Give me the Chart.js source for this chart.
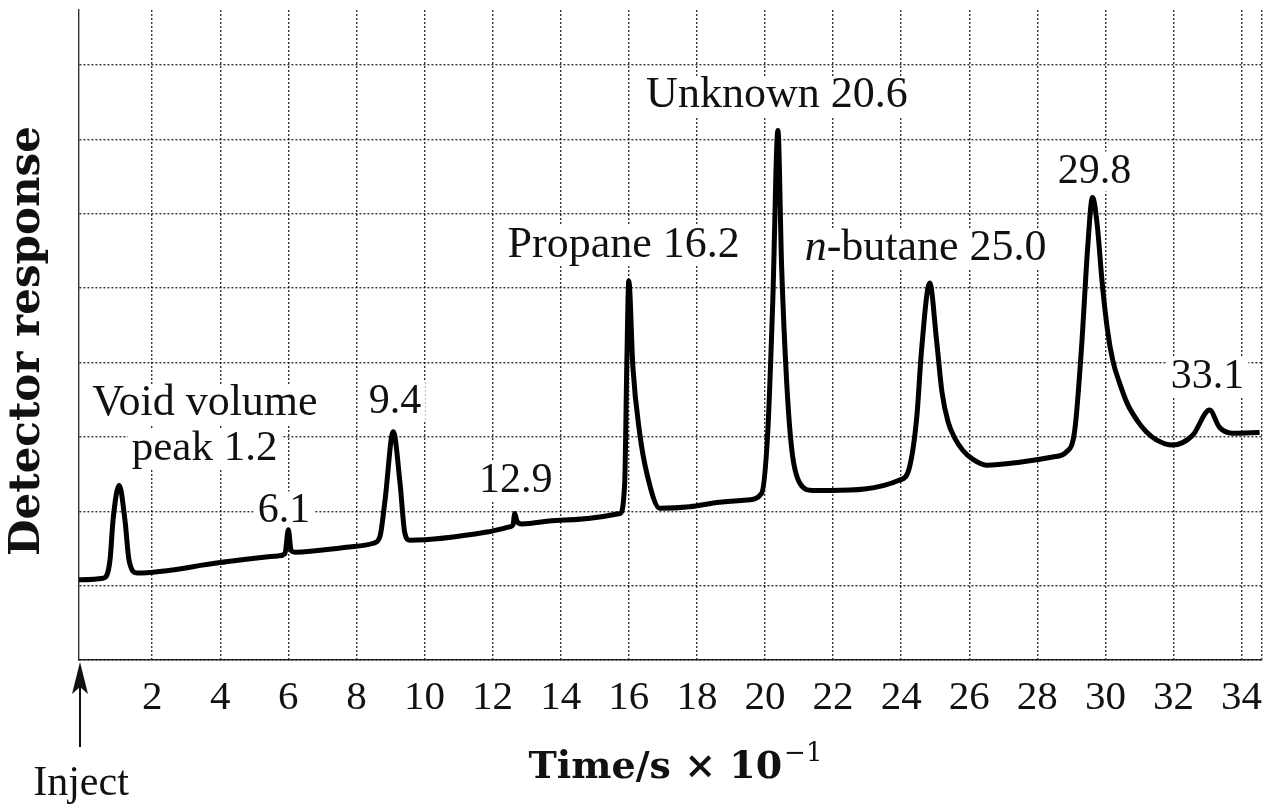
<!DOCTYPE html>
<html>
<head>
<meta charset="utf-8">
<title>Chromatogram</title>
<script src="https://cdn.jsdelivr.net/npm/chart.js@4.4.0/dist/chart.umd.min.js"></script>
<style>
  html, body { margin: 0; padding: 0; background: #fff; }
  #wrap { width: 1266px; height: 809px; }
</style>
</head>
<body>
<div id="wrap"><canvas id="chromChart" width="1266" height="809"></canvas></div>
<script>
// Retention time axis (grid units, Time/s x 10^-1)
var timeValues = [
    -0.15, 0.56, 0.76, 0.85, 1.03, 1.2, 1.32, 1.55, 4.0, 5.7,
    5.9, 6.0, 6.08, 6.2, 7.8, 8.5, 8.69, 8.84, 9.08, 9.28,
    9.42, 9.57, 11.83, 12.5, 12.6, 12.65, 12.72, 12.85, 13.97, 15.74,
    15.88, 15.94, 16.0, 16.12, 16.32, 16.53, 16.91, 17.79, 18.67, 19.47,
    19.9, 20.08, 20.23, 20.38, 20.49, 20.64, 20.79, 21.02, 21.4, 21.9,
    23.96, 24.25, 24.46, 24.6, 24.84, 25.04, 25.2, 25.38, 25.58, 25.81,
    26.1, 26.51, 27.48, 28.45, 28.86, 29.1, 29.3, 29.48, 29.62, 29.76,
    29.9, 30.06, 30.22, 30.42, 30.65, 30.92, 31.2, 31.5, 31.97, 32.56,
    33.06, 33.35, 33.73, 34.53
];
// Detector response (grid divisions above the bottom line)
var responseValues = [
    1.08, 1.10, 1.34, 1.88, 2.35, 1.88, 1.34, 1.17, 1.31, 1.40,
    1.43, 1.75, 1.47, 1.45, 1.52, 1.57, 1.66, 2.15, 3.07, 2.38,
    1.71, 1.61, 1.72, 1.79, 1.82, 1.97, 1.86, 1.83, 1.88, 1.97,
    2.38, 3.94, 5.1, 3.94, 3.05, 2.51, 2.04, 2.06, 2.12, 2.15,
    2.24, 3.05, 4.84, 7.12, 5.28, 3.72, 2.82, 2.38, 2.28, 2.28,
    2.42, 2.6, 3.27, 4.17, 5.07, 4.3, 3.6, 3.2, 2.98, 2.82,
    2.7, 2.62, 2.66, 2.73, 2.8, 3.09, 4.21, 5.55, 6.22, 5.85,
    5.1, 4.44, 4.02, 3.72, 3.44, 3.23, 3.07, 2.96, 2.89, 3.02,
    3.36, 3.13, 3.05, 3.06
];
var xTickValues = [2, 4, 6, 8, 10, 12, 14, 16, 18, 20, 22, 24, 26, 28, 30, 32, 34];
var xMin = -0.15, xMax = 34.6;
var yMax = 8.74;

// peak labels, placed in data units (centre x, baseline y)
var peakLabels = [
    { parts: [{ t: 'Void volume' }], x: 3.55, y: 3.29, size: 44 },
    { parts: [{ t: 'peak 1.2' }], x: 3.54, y: 2.69, size: 43 },
    { parts: [{ t: '6.1' }], x: 5.87, y: 1.85, size: 42 },
    { parts: [{ t: '9.4' }], x: 9.13, y: 3.32, size: 42 },
    { parts: [{ t: '12.9' }], x: 12.68, y: 2.26, size: 42 },
    { parts: [{ t: 'Propane 16.2' }], x: 15.85, y: 5.42, size: 44 },
    { parts: [{ t: 'Unknown 20.6' }], x: 20.35, y: 7.43, size: 44 },
    { parts: [{ t: 'n', italic: true }, { t: '-butane 25.0' }], x: 24.72, y: 5.38, size: 44 },
    { parts: [{ t: '29.8' }], x: 29.68, y: 6.42, size: 42 },
    { parts: [{ t: '33.1' }], x: 33.0, y: 3.66, size: 42 }
];

var serif = '"Liberation Serif", "Times New Roman", serif';
var gridColor = 'rgba(0,0,0,0.8)';

var points = timeValues.map(function (t, i) {
    return { x: t, y: responseValues[i] };
});

function fontFor(part, size) {
    return (part.italic ? 'italic ' : '') + size + 'px ' + serif;
}

var labelsPlugin = {
    id: 'peakLabels',
    beforeDatasetsDraw: function (chart) {
        var ctx = chart.ctx;
        var xs = chart.scales.x, ys = chart.scales.y;
        ctx.save();
        ctx.textBaseline = 'alphabetic';
        peakLabels.forEach(function (lab) {
            var total = 0;
            lab.parts.forEach(function (p) {
                ctx.font = fontFor(p, lab.size);
                p.w = ctx.measureText(p.t).width;
                total += p.w;
            });
            var cx = xs.getPixelForValue(lab.x);
            var by = ys.getPixelForValue(lab.y);
            var x0 = cx - total / 2;
            ctx.fillStyle = '#fff';
            ctx.fillRect(x0 - 4, by - 31, total + 8, 40);
            ctx.fillStyle = '#111';
            ctx.textAlign = 'left';
            lab.parts.forEach(function (p) {
                ctx.font = fontFor(p, lab.size);
                ctx.fillText(p.t, x0, by);
                x0 += p.w;
            });
        });
        ctx.restore();
    }
};

var titlesPlugin = {
    id: 'axisTitles',
    afterDraw: function (chart) {
        var ctx = chart.ctx;
        var area = chart.chartArea;
        ctx.save();
        ctx.fillStyle = '#111';

        // y axis title
        ctx.save();
        ctx.translate(28, 341);
        ctx.rotate(-Math.PI / 2);
        ctx.font = 'bold 42px "DejaVu Serif", serif';
        ctx.textAlign = 'center';
        ctx.textBaseline = 'middle';
        ctx.fillText('Detector response', 0, 0);
        ctx.restore();

        // x axis title with superscript
        var main = 'Time/s \u00d7 10';
        var sup = '\u22121';
        ctx.font = 'bold 38px "DejaVu Serif", serif';
        var wMain = ctx.measureText(main).width;
        ctx.font = '26px "DejaVu Serif", serif';
        var wSup = ctx.measureText(sup).width;
        var cx = (area.left + area.right) / 2;
        var x0 = cx - (wMain + wSup) / 2 + 4;
        ctx.textAlign = 'left';
        ctx.textBaseline = 'alphabetic';
        ctx.font = 'bold 38px "DejaVu Serif", serif';
        ctx.fillText(main, x0, 778);
        ctx.font = '26px "DejaVu Serif", serif';
        ctx.fillText(sup, x0 + wMain + 2, 761);

        // inject marker
        var ix = 80;
        ctx.strokeStyle = '#111';
        ctx.lineWidth = 2;
        ctx.beginPath();
        ctx.moveTo(ix, 672);
        ctx.lineTo(ix, 747);
        ctx.stroke();
        ctx.beginPath();
        ctx.moveTo(ix, 662);
        ctx.lineTo(ix - 8, 694);
        ctx.lineTo(ix, 687);
        ctx.lineTo(ix + 8, 694);
        ctx.closePath();
        ctx.fill();
        ctx.font = '42px ' + serif;
        ctx.textAlign = 'center';
        ctx.fillText('Inject', 81, 795);
        ctx.restore();
    }
};

var ctx = document.getElementById('chromChart').getContext('2d');
var chromChart = new Chart(ctx, {
    type: 'line',
    data: {
        datasets: [{
            label: 'Detector response',
            data: points,
            borderColor: '#000',
            borderWidth: 5,
            pointRadius: 0,
            fill: false,
            cubicInterpolationMode: 'monotone'
        }]
    },
    options: {
        responsive: false,
        animation: false,
        devicePixelRatio: 1,
        layout: { padding: { top: 10, right: 4, left: 0, bottom: 0 } },
        plugins: {
            legend: { display: false },
            tooltip: { enabled: false }
        },
        scales: {
            x: {
                type: 'linear',
                min: xMin,
                max: xMax,
                afterBuildTicks: function (scale) {
                    var ticks = xTickValues.map(function (v) { return { value: v }; });
                    ticks.push({ value: xMax });
                    scale.ticks = ticks;
                },
                afterFit: function (scale) {
                    scale.height = 149;
                    scale.paddingLeft = 0;
                    scale.paddingRight = 0;
                },
                ticks: {
                    padding: 14,
                    color: '#111',
                    font: { family: serif, size: 41 },
                    callback: function (v) {
                        return xTickValues.indexOf(v) >= 0 ? String(v) : '';
                    }
                },
                grid: {
                    color: gridColor,
                    lineWidth: 1.4,
                    drawTicks: false,
                    borderDash: [2, 2]
                },
                border: { display: true, color: gridColor, width: 1.4, dash: [2, 2] }
            },
            y: {
                min: 0,
                max: yMax,
                afterBuildTicks: function (scale) {
                    var ticks = [];
                    for (var i = 0; i <= 8; i++) ticks.push({ value: i });
                    scale.ticks = ticks;
                },
                afterFit: function (scale) {
                    scale.width = 79;
                    scale.paddingTop = 0;
                    scale.paddingBottom = 0;
                },
                ticks: { display: false },
                grid: {
                    color: gridColor,
                    lineWidth: 1.4,
                    drawTicks: false,
                    borderDash: [2, 2]
                },
                border: { display: true, color: gridColor, width: 1.4, dash: [2, 2] }
            }
        }
    },
    plugins: [labelsPlugin, titlesPlugin]
});
</script>
</body>
</html>
